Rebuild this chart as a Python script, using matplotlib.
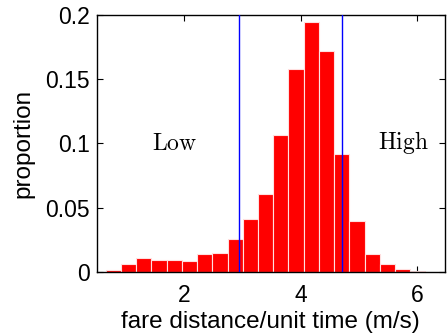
import matplotlib
matplotlib.use('Agg')
import matplotlib.pyplot as plt

plt.rcParams['font.family'] = ['Liberation Sans', 'DejaVu Sans']
plt.rcParams['mathtext.fontset'] = 'cm'

# histogram of fare distance per unit time (left bin edges, bin width, proportions)
bin_start = 0.655
bin_width = 0.2615
proportion = [0.0013, 0.0062, 0.0104, 0.0093, 0.0093, 0.0086, 0.0140, 0.0145,
              0.0257, 0.0410, 0.0604, 0.1063, 0.1575, 0.1945, 0.1715, 0.0918,
              0.0394, 0.0135, 0.0060, 0.0023, 0.0005]
thresholds = [2.946, 4.715]
yticks = [0, 0.05, 0.1, 0.15, 0.2]
ytick_labels = ['0', '0.05', '0.1', '0.15', '0.2']
xticks = [2, 4, 6]

lefts = [bin_start + i*bin_width for i in range(len(proportion))]

fig = plt.figure(figsize=(4.48, 3.36), dpi=100)
ax = fig.add_axes([0.216, 0.191, 0.777, 0.765])
ax.bar(lefts, proportion, width=bin_width, align='edge', color='#ff0000',
       edgecolor='#ffe0e0', linewidth=0.8, zorder=2)
for t in thresholds:
    ax.axvline(t, color='#0000ff', linewidth=1, zorder=3)

ax.text(1.84, 0.0995, r'$\mathrm{Low}$', fontsize=17, ha='center', va='center')
ax.text(5.77, 0.1005, r'$\mathrm{High}$', fontsize=17, ha='center', va='center')

ax.set_xlim(0.5, 6.48)
ax.set_ylim(0, 0.2)
ax.set_xticks(xticks)
ax.set_xticklabels([str(x) for x in xticks])
ax.set_yticks(yticks)
ax.set_yticklabels(ytick_labels)
ax.tick_params(direction='in', top=True, right=True, length=4, width=0.8,
               labelsize=16.5)
ax.tick_params(axis='x', pad=9)
ax.tick_params(axis='y', pad=5)
for s in ax.spines.values():
    s.set_linewidth(1)
ax.set_xlabel('fare distance/unit time (m/s)', fontsize=17.5, labelpad=3)
ax.set_ylabel('proportion', fontsize=17.5, labelpad=8)

fig.savefig('out.png', dpi=100)
